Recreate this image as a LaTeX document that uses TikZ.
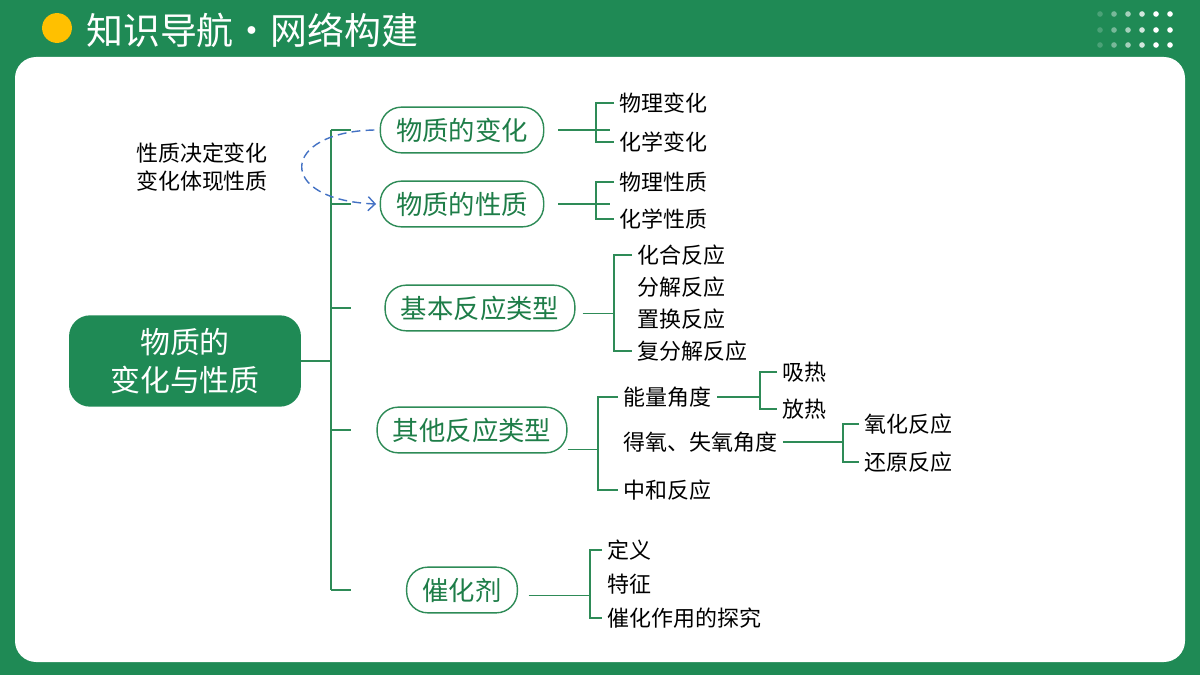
\documentclass[tikz,border=0pt]{standalone}
\usepackage{fontspec}
\setmainfont{Noto Sans CJK SC}
\usetikzlibrary{arrows.meta}
\definecolor{bggreen}{HTML}{1F8A55}
\definecolor{txtgreen}{HTML}{1E7D48}
\definecolor{linegreen}{HTML}{2E8B57}
\definecolor{dashblue}{HTML}{4472C4}
\definecolor{sun}{HTML}{FFC000}
\tikzset{
  pill/.style={draw=linegreen, rounded corners=12pt, thick, fill=white, text=txtgreen,
    font=\fontsize{15}{18}\selectfont, minimum height=26pt, inner xsep=9pt},
  leaf/.style={anchor=west, font=\fontsize{12.5}{15}\selectfont, inner xsep=3pt, inner ysep=1pt},
  br/.style={draw=linegreen, line width=0.6pt}
}
\begin{document}
\begin{tikzpicture}[x=0.02cm, y=-0.02cm]
    % background
    \fill[bggreen] (0,0) rectangle (1200,675);
    \fill[white, rounded corners=12pt] (15,57) rectangle (1185,662);
    \fill[sun] (57,28) circle (8.5pt);
    \node[anchor=west, text=white, font=\fontsize{21}{24}\selectfont] (title) at (80,30) {知识导航·网络构建};
    \foreach \r in {14,30,45}
      \foreach \c/\o in {1100/0.2,1114/0.4,1128/0.6,1142/0.8,1156/1,1170/1}
        \fill[white, opacity=\o] (\c,\r) circle (1.6pt);

    % root
    \node[fill=bggreen, rounded corners=12pt, text=white, align=center, minimum width=132pt,
      minimum height=52pt, font=\fontsize{17}{22}\selectfont] (root) at (185,361) {物质的\\变化与性质};

    % level one
    \node[pill] (chg) at (462,130) {物质的变化};
    \node[pill] (prop) at (462,204) {物质的性质};
    \node[pill] (basic) at (480,308) {基本反应类型};
    \node[pill] (other) at (472,430) {其他反应类型};
    \node[pill] (cat) at (462,590) {催化剂};
    \node[align=center, font=\fontsize{12.5}{16}\selectfont] (note) at (202,167) {性质决定变化\\变化体现性质};

    % trunk
    \coordinate (trunk) at (331,0);
    \draw[br] (root.east) -- (root.east -| trunk);
    \draw[br] (chg.west -| trunk) -- (cat.west -| trunk);
    \foreach \n in {chg,prop,basic,other,cat}
      \draw[br] (\n.west -| trunk) -- ++(20,0);

    % leaves
    \node[leaf] (chg1) at (614,103) {物理变化};
    \node[leaf] (chg2) at (614,142) {化学变化};
    \node[leaf] (prop1) at (614,182) {物理性质};
    \node[leaf] (prop2) at (614,219) {化学性质};
    \node[leaf] (bas1) at (632,255) {化合反应};
    \node[leaf] (bas2) at (632,287) {分解反应};
    \node[leaf] (bas3) at (632,319) {置换反应};
    \node[leaf] (bas4) at (632,351) {复分解反应};
    \node[leaf] (oth1) at (618,397) {能量角度};
    \node[leaf] (oth2) at (618,442) {得氧、失氧角度};
    \node[leaf] (oth3) at (618,490) {中和反应};
    \node[leaf] (heat1) at (777,372) {吸热};
    \node[leaf] (heat2) at (777,409) {放热};
    \node[leaf] (ox1) at (859,424) {氧化反应};
    \node[leaf] (ox2) at (859,462) {还原反应};
    \node[leaf] (cat1) at (602,550) {定义};
    \node[leaf] (cat2) at (602,584) {特征};
    \node[leaf] (cat3) at (602,618) {催化作用的探究};

    % brackets
    \coordinate (bchg) at (596,0);
    \coordinate (bbas) at (614,0);
    \coordinate (both) at (598,0);
    \coordinate (bheat) at (760,0);
    \coordinate (box) at (843,0);
    \coordinate (bcat) at (590,0);
    \draw[br] ([xshift=8pt]chg.east) -- ([xshift=8pt]chg.east -| bchg);
    \draw[br] (chg1.west) -- (chg1.west -| bchg) -- (chg2.west -| bchg) -- (chg2.west);
    \draw[br] ([xshift=8pt]prop.east) -- ([xshift=8pt]prop.east -| bchg);
    \draw[br] (prop1.west) -- (prop1.west -| bchg) -- (prop2.west -| bchg) -- (prop2.west);
    \draw[br] ([xshift=4pt,yshift=-3pt]basic.east) -- ([yshift=-3pt]basic.east -| bbas);
    \draw[br] (bas1.west) -- (bas1.west -| bbas) -- (bas4.west -| bbas) -- (bas4.west);
    \draw[br] ([xshift=0pt,yshift=-11pt]other.east) -- ([yshift=-11pt]other.east -| both);
    \draw[br] (oth1.west) -- (oth1.west -| both) -- (oth3.west -| both) -- (oth3.west);
    \draw[br] (oth1.east) -- (oth1.east -| bheat);
    \draw[br] (heat1.west) -- (heat1.west -| bheat) -- (heat2.west -| bheat) -- (heat2.west);
    \draw[br] (oth2.east) -- (oth2.east -| box);
    \draw[br] (ox1.west) -- (ox1.west -| box) -- (ox2.west -| box) -- (ox2.west);
    \draw[br] ([xshift=6pt,yshift=-3pt]cat.east) -- ([yshift=-3pt]cat.east -| bcat);
    \draw[br] (cat1.west) -- (cat1.west -| bcat) -- (cat3.west -| bcat) -- (cat3.west);

    % relation
    \draw[dashblue, thick, dash pattern=on 5pt off 3pt, -{Straight Barb[length=4pt]}]
      ([xshift=-3pt]chg.west) .. controls (280,132) and (275,200) .. ([xshift=-2pt]prop.west);
\end{tikzpicture}
\end{document}
